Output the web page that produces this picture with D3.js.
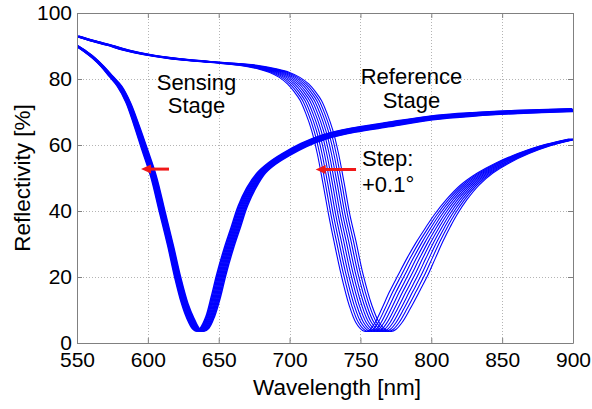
<!DOCTYPE html>
<html><head><meta charset="utf-8">
<script src="https://cdn.jsdelivr.net/npm/d3@7"></script>
<style>body{margin:0;background:#fff}svg text{font-family:"Liberation Sans",Arial,sans-serif}</style>
</head><body>
<svg id="c" width="592" height="409"></svg>
<script>
// ---- data ----
const xTicks = [550, 600, 650, 700, 750, 800, 850, 900];
const yTicks = [0, 20, 40, 60, 80, 100];

// Sensing stage: centre curve of the band (wavelength nm, reflectivity %)
const sensW = [550,556,562,568,574, 580,586,592,598,604, 610,616,621,626,630, 634,637,640,644,648, 652,657,662,667,673, 680,688,697,710,725, 745,770,800,830,860, 900];
const sensV = [90,88.3,86.3,83.8,80.8, 77.8,73,66,58.3,50.5, 40,29.5,20,12,7.5, 4.3,3.6,4.5,8,14, 21,28.5,35,41.5,47, 51.5,54.5,57,60,62.5, 64.5,66.2,68.2,69.3,70, 70.6];
// total horizontal spread of the band (nm) and vertical spread (%) at each point
const sensSpreadW = [1.5,1.8,2,2,2.5, 3,3,3.5,4,4, 4,4,4.2,4.5,5, 5,5.5,6,6,6.5, 6.5,6.5,6.5,6.5,6.5, 6,5.5,5,4,3.5, 3,2.5,2,2,2, 1.5];
const sensSpreadV = [0,0,0,0,0, 0,0,0,0,0, 0,0,0,0,0, 0,0,0,0,0, 0,0,0,0,0, 0,-0.3,-0.6,-0.9,-1.1, -1.2,-1.2,-1.1,-1,-0.9, -0.8];

// Reference stage: centre curve of the band
const refW = [550,560,573,585,599, 620,649,670,685,693, 700,706,711,715,719, 723,727,731,735,739, 744,750,755,760,763, 766,770,775,781,787, 793,799,805,810,818, 827,838,850,865,880, 900];
const refV = [93,91.7,90.2,88.7,87.4, 86.1,85,84.2,83,82, 80.5,78.5,76,73.5,69.5, 64.5,57.5,48.5,39,31, 21,11.5,6.2,3.8,3.5, 4.1,6.3,10.3,15.5,20.5, 25.8,30.8,35.3,38.8,43.5, 47.8,51.5,54.5,57.4,59.7, 61.8];
const refSpreadW = [3,3.5,4,5,6, 8,10,12,13,14, 14.5,15,15,15,15, 15,15,15,15,15.5, 15.5,16,16.5,17,17.5, 18,19,20,21,21, 20,18.5,17,16,14.5, 13,11,9.5,8,7, 6];

const nCurves = 10;

const annotations = [
  {lines:["Sensing","Stage"], x:634.3, y:[76.7, 69.7], anchor:"middle"},
  {lines:["Reference","Stage"], x:786, y:[78.5, 71.2], anchor:"middle"},
  {lines:["Step:","+0.1\u00B0"], x:751.1, y:[53.6, 45.8], anchor:"start"}
];
const arrows = [
  {from:[614.9, 52.7], to:[595.2, 52.7]},
  {from:[746.9, 52.6], to:[718.4, 52.6]}
];

// ---- drawing ----
const m = {l:77, r:573, t:13, b:343};
const x = d3.scaleLinear().domain([550, 900]).range([m.l, m.r]);
const y = d3.scaleLinear().domain([0, 100]).range([m.b, m.t]);
const svg = d3.select("#c");

svg.append("defs").append("clipPath").attr("id","clip")
  .append("rect").attr("x",m.l).attr("y",m.t).attr("width",m.r-m.l).attr("height",m.b-m.t);

// grid
const grid = svg.append("g").attr("stroke","#b4b4b4").attr("stroke-dasharray","1,2").attr("stroke-width",1);
grid.selectAll(".gx").data(xTicks.slice(1,-1)).join("line")
  .attr("x1",d=>Math.round(x(d))+0.5).attr("x2",d=>Math.round(x(d))+0.5).attr("y1",m.t).attr("y2",m.b);
grid.selectAll(".gy").data(yTicks.slice(1,-1)).join("line")
  .attr("y1",d=>Math.round(y(d))+0.5).attr("y2",d=>Math.round(y(d))+0.5).attr("x1",m.l).attr("x2",m.r);

function family(W, V, SW, SV) {
  return d3.range(nCurves).map(i => {
    const t = i/(nCurves-1) - 0.5;
    return W.map((w, j) => [w + t*SW[j], V[j] + (SV ? t*SV[j] : 0)]);
  });
}
const line = d3.line().x(d=>x(d[0])).y(d=>y(d[1])).curve(d3.curveCatmullRom.alpha(0.5));
const curves = svg.append("g").attr("clip-path","url(#clip)").attr("fill","none").attr("stroke","#0000ff");
curves.selectAll(".ref").data(family(refW, refV, refSpreadW, null)).join("path")
  .attr("d", line).attr("stroke-width", 1.1);
curves.selectAll(".sens").data(family(sensW, sensV, sensSpreadW, sensSpreadV)).join("path")
  .attr("d", line).attr("stroke-width", 1.5);

// axes
function styleAxis(g){
  g.attr("font-family",null).attr("font-size",null);
  g.select(".domain").attr("stroke","#808080");
  g.selectAll(".tick line").attr("stroke","#808080");
  g.selectAll(".tick text").attr("fill","#000").style("font-size","21px");
}
svg.append("g").attr("transform",`translate(0,${m.b})`)
  .call(d3.axisBottom(x).tickValues(xTicks).tickSize(-5).tickSizeOuter(0).tickPadding(9).tickFormat(d3.format("d"))).call(styleAxis);
svg.append("g").attr("transform",`translate(${m.l},0)`)
  .call(d3.axisLeft(y).tickValues(yTicks).tickSize(-5).tickSizeOuter(0).tickPadding(5).tickFormat(d3.format("d"))).call(styleAxis);
svg.append("g").attr("transform",`translate(0,${m.t})`)
  .call(d3.axisTop(x).tickValues(xTicks).tickSize(-5).tickSizeOuter(0).tickFormat("")).call(styleAxis);
svg.append("g").attr("transform",`translate(${m.r},0)`)
  .call(d3.axisRight(y).tickValues(yTicks).tickSize(-5).tickSizeOuter(0).tickFormat("")).call(styleAxis);

// axis labels
svg.append("text").attr("x",337).attr("y",395).attr("text-anchor","middle")
  .style("font-size","22.5px").text("Wavelength [nm]");
svg.append("text").attr("transform",`translate(30,${(m.t+m.b)/2}) rotate(-90)`).attr("text-anchor","middle")
  .style("font-size","22.5px").text("Reflectivity [%]");

// annotations
annotations.forEach(a => {
  a.lines.forEach((t,i) => {
    svg.append("text").attr("x",x(a.x)).attr("y",y(a.y[i])).attr("text-anchor",a.anchor)
      .style("font-size","22px").attr("fill","#000").text(t);
  });
});

// red arrows
const ag = svg.append("g");
arrows.forEach(a => {
  const x1 = x(a.from[0]), x2 = x(a.to[0]), yy = y(a.to[1]);
  const head = 10;
  ag.append("line").attr("x1",x1).attr("x2",x2+head-1).attr("y1",yy).attr("y2",yy)
    .attr("stroke","#f01818").attr("stroke-width",3);
  ag.append("path").attr("d",`M${x2},${yy} L${x2+head},${yy-4.5} L${x2+head},${yy+4.5} Z`).attr("fill","#f01818");
});
</script>
</body></html>
